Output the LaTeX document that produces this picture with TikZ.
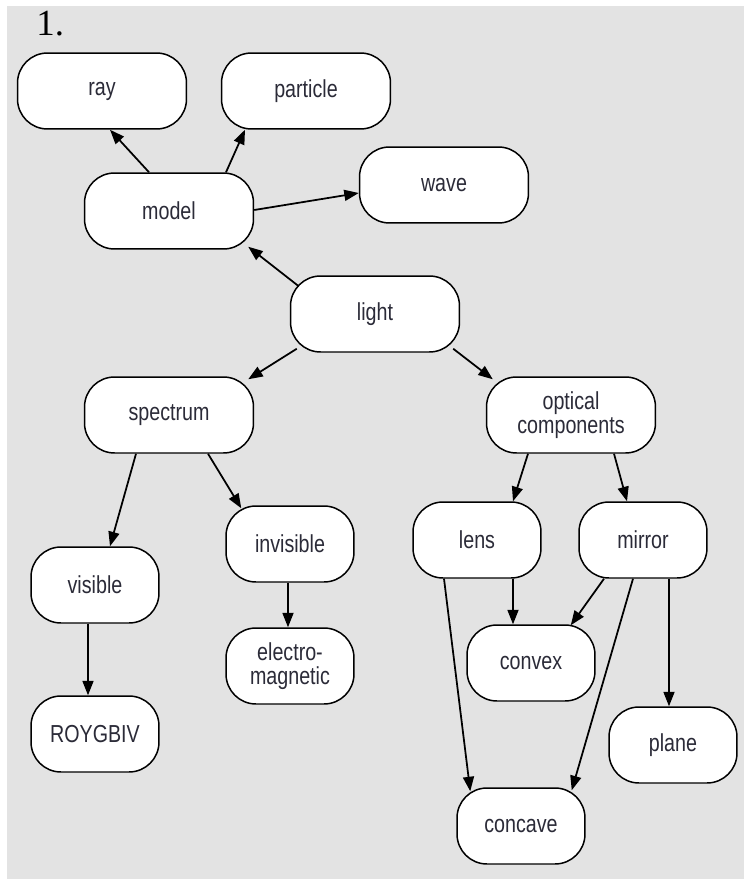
\documentclass[tikz,border=0pt]{standalone}
\usepackage{fontspec}
\setmainfont{Liberation Sans}[FakeStretch=0.8]
\newfontfamily\numfont{Liberation Serif}
\usetikzlibrary{calc, arrows.meta}
\definecolor{paper}{HTML}{E3E3E3}
\definecolor{ink}{HTML}{2B2B38}
\tikzset{
    concept/.style={draw, line width=0.85pt, fill=white, rounded corners=0.6cm,
      minimum width=3.38cm, minimum height=1.52cm, align=center, inner sep=2pt,
      text=ink, font=\fontsize{14}{14}\selectfont},
    leaf/.style={concept, minimum width=2.56cm},
    link/.style={-{Triangle[length=2.9mm, width=2.2mm]}, line width=1pt},
}

\begin{document}
\begin{tikzpicture}[x=0.02cm, y=-0.02cm]
    % page and grey panel
    \fill[white] (0,0) rectangle (744,879);
    \fill[paper] (7,6) rectangle (744,879);
    \useasboundingbox (0,0) rectangle (744,879);

    \node[anchor=base west, inner sep=0pt, font=\numfont\fontsize{21}{21}\selectfont] (num) at (36,35) {1.};

    % concepts
    \node[concept] (ray) at (102,91) {ray};
    \node[concept] (particle) at (306,91) {particle};
    \node[concept] (wave) at (444,185) {wave};
    \node[concept] (model) at (169,211) {model};
    \node[concept] (light) at (375,314) {light};
    \node[concept] (spectrum) at (169,415) {spectrum};
    \node[concept] (optical) at (571,415) {optical\\components};
    \node[leaf] (visible) at (95,585) {visible};
    \node[leaf] (invisible) at (290,544) {invisible};
    \node[leaf] (lens) at (477,540) {lens};
    \node[leaf] (mirror) at (643,540) {mirror};
    \node[leaf] (emag) at (290,666) {electro-\\magnetic};
    \node[leaf] (roygbiv) at (95,734) {ROYGBIV};
    \node[leaf] (convex) at (531,663) {convex};
    \node[leaf] (plane) at (673,745) {plane};
    \node[leaf] (concave) at (521,826) {concave};

    % links
    \draw[link] ($(model.north)+(-20,0)$) -- ($(ray.south)+(8,0)$);
    \draw[link] ($(model.north)+(57,0)$) -- ($(particle.south)+(-61,0)$);
    \draw[link] ($(model.east)+(0,-1)$) -- ($(wave.west)+(0,8)$);
    \draw[link] ($(light.north west)+(9,11)$) -- ($(model.south east)+(-6,-3)$);
    \draw[link] ($(light.south west)+(7,-4)$) -- ($(spectrum.north east)+(-6,3)$);
    \draw[link] ($(light.south east)+(-7,-4)$) -- ($(optical.north west)+(7,3)$);
    \draw[link] ($(spectrum.south)+(-33,0)$) -- ($(visible.north)+(15,0)$);
    \draw[link] ($(spectrum.south)+(39,0)$) -- ($(invisible.north west)+(16,3)$);
    \draw[link] ($(optical.south)+(-43,0)$) -- ($(lens.north)+(36,0)$);
    \draw[link] ($(optical.south)+(43,0)$) -- ($(mirror.north)+(-16,0)$);
    \draw[link] ($(visible.south)+(-7,0)$) -- ($(roygbiv.north)+(-7,0)$);
    \draw[link] ($(invisible.south)+(-2,0)$) -- ($(emag.north)+(-2,0)$);
    \draw[link] ($(lens.south)+(36,0)$) -- ($(convex.north)+(-18,0)$);
    \draw[link] ($(mirror.south)+(-39,0)$) -- ($(convex.north east)+(-25,1)$);
    \draw[link] ($(lens.south)+(-33,0)$) -- ($(concave.north west)+(14,4)$);
    \draw[link] ($(mirror.south)+(-10,0)$) -- ($(concave.north east)+(-14,3)$);
    \draw[link] ($(mirror.south)+(26,0)$) -- ($(plane.north)+(-4,0)$);
\end{tikzpicture}
\end{document}
